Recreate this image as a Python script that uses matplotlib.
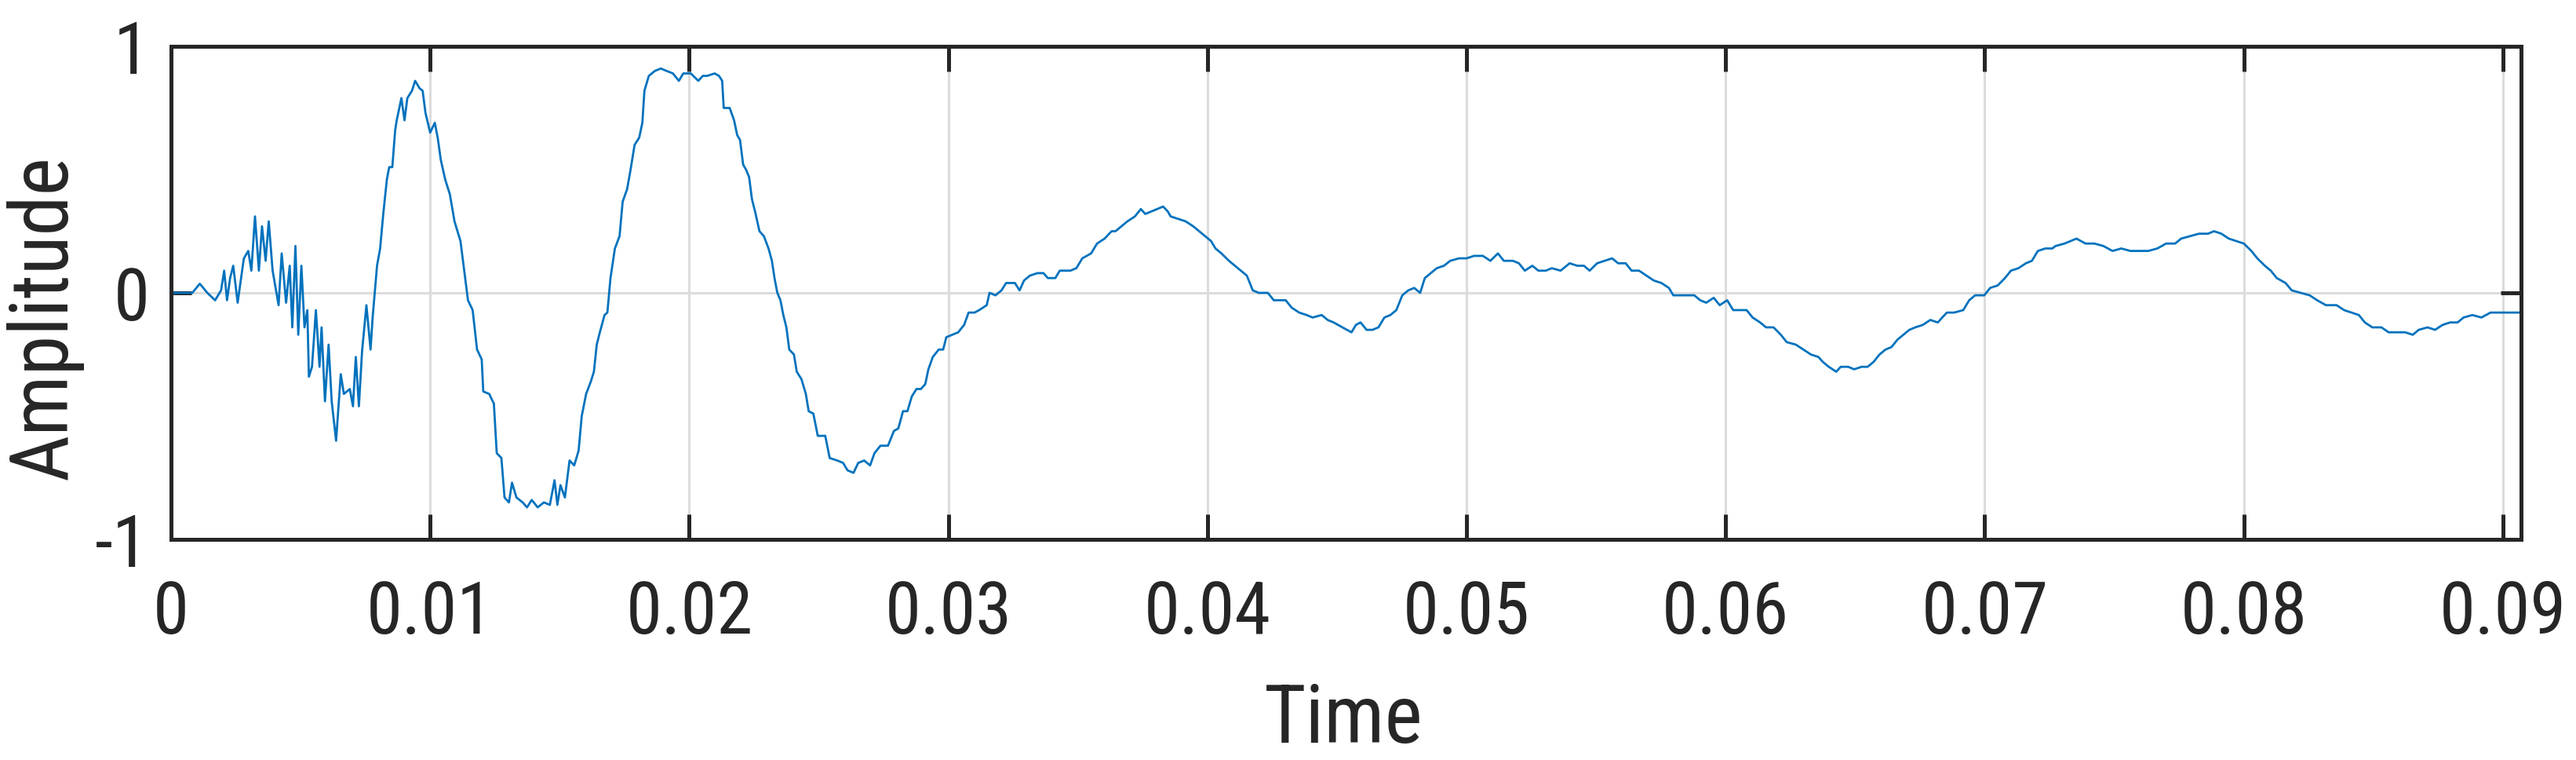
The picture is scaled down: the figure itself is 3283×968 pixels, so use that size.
import numpy as np
import matplotlib
matplotlib.use("Agg")
import matplotlib.pyplot as plt
from matplotlib import font_manager as fm

# ---- data (time in ms, amplitude) ----
time_ms = [
    0.00, 0.82, 1.11, 1.40, 1.70, 1.93, 2.05, 2.16, 2.28, 2.40, 2.57, 2.81, 2.98, 3.10, 3.24, 3.39,
    3.51, 3.65, 3.77, 3.92, 4.15, 4.27, 4.44, 4.58, 4.68, 4.80, 4.91, 5.03, 5.15, 5.26, 5.32, 5.44,
    5.59, 5.73, 5.81, 5.94, 6.08, 6.20, 6.37, 6.55, 6.67, 6.90, 7.02, 7.13, 7.25, 7.37, 7.54, 7.70,
    7.78, 7.95, 8.07, 8.19, 8.33, 8.42, 8.54, 8.65, 8.71, 8.89, 9.01, 9.12, 9.30, 9.42, 9.59, 9.71,
    9.82, 10.00, 10.18, 10.29, 10.41, 10.58, 10.76, 10.94, 11.17, 11.29, 11.46, 11.64, 11.81, 11.99,
    12.05, 12.28, 12.46, 12.57, 12.75, 12.87, 13.04, 13.16, 13.33, 13.57, 13.74, 13.92, 14.15, 14.39,
    14.62, 14.80, 14.91, 15.03, 15.20, 15.38, 15.56, 15.73, 15.85, 16.02, 16.20, 16.32, 16.43, 16.55,
    16.73, 16.84, 16.96, 17.13, 17.31, 17.43, 17.60, 17.72, 17.89, 18.07, 18.19, 18.27, 18.44, 18.67,
    18.90, 19.13, 19.37, 19.60, 19.77, 20.06, 20.35, 20.52, 20.69, 20.98, 21.15, 21.27, 21.33, 21.56,
    21.73, 21.85, 21.96, 22.08, 22.19, 22.31, 22.42, 22.54, 22.71, 22.88, 23.06, 23.19, 23.29, 23.40,
    23.52, 23.63, 23.75, 23.86, 24.04, 24.15, 24.33, 24.50, 24.61, 24.79, 24.96, 25.25, 25.42, 25.71,
    25.94, 26.11, 26.34, 26.52, 26.75, 26.98, 27.15, 27.38, 27.67, 27.90, 28.07, 28.25, 28.42, 28.59,
    28.77, 28.94, 29.11, 29.23, 29.40, 29.63, 29.80, 29.92, 30.15, 30.38, 30.61, 30.78, 31.01, 31.19,
    31.48, 31.59, 31.82, 32.05, 32.23, 32.57, 32.75, 32.92, 33.15, 33.44, 33.67, 33.84, 34.13, 34.30,
    34.48, 34.71, 34.94, 35.17, 35.51, 35.74, 36.03, 36.30, 36.45, 36.68, 36.91, 37.20, 37.43, 37.60,
    37.83, 38.06, 38.29, 38.47, 38.58, 38.87, 39.16, 39.45, 39.68, 39.91, 40.14, 40.31, 40.54, 40.83,
    41.06, 41.29, 41.52, 41.75, 41.98, 42.33, 42.56, 43.02, 43.25, 43.54, 43.83, 44.06, 44.41, 44.64,
    44.87, 45.21, 45.56, 45.73, 45.91, 46.14, 46.37, 46.60, 46.83, 47.06, 47.29, 47.52, 47.75, 47.98,
    48.21, 48.39, 48.62, 48.85, 49.13, 49.37, 49.71, 50.00, 50.29, 50.63, 50.92, 51.21, 51.44, 51.79,
    52.02, 52.25, 52.54, 52.77, 53.06, 53.29, 53.63, 53.98, 54.27, 54.53, 54.75, 55.04, 55.33, 55.62,
    55.85, 56.14, 56.37, 56.66, 56.94, 57.23, 57.52, 57.81, 57.98, 58.27, 58.56, 58.79, 59.02, 59.25,
    59.54, 59.77, 60.06, 60.29, 60.58, 60.81, 61.04, 61.33, 61.56, 61.85, 62.13, 62.36, 62.71, 63.00,
    63.29, 63.58, 63.75, 63.98, 64.27, 64.44, 64.73, 64.96, 65.25, 65.48, 65.71, 65.94, 66.17, 66.40,
    66.63, 66.86, 67.09, 67.32, 67.61, 67.90, 68.19, 68.36, 68.54, 68.82, 69.17, 69.40, 69.63, 69.98,
    70.21, 70.50, 70.78, 71.01, 71.30, 71.59, 71.82, 72.05, 72.34, 72.61, 72.73, 73.08, 73.54, 73.89,
    74.23, 74.58, 74.93, 75.27, 75.62, 76.02, 76.31, 76.66, 77.00, 77.35, 77.58, 77.92, 78.27, 78.62,
    78.85, 79.13, 79.42, 79.71, 80.00, 80.29, 80.52, 80.81, 81.04, 81.27, 81.61, 81.85, 82.19, 82.54,
    82.83, 83.17, 83.58, 83.87, 84.15, 84.44, 84.67, 84.96, 85.31, 85.59, 85.88, 86.23, 86.52, 86.75,
    87.09, 87.38, 87.67, 87.96, 88.25, 88.48, 88.82, 89.17, 89.52, 89.80, 90.15, 90.50, 90.70,
]
amplitude = [
    0.00, 0.00, 0.037, 0.00, -0.03, 0.01, 0.09, -0.03, 0.06, 0.11, -0.04, 0.14, 0.17, 0.09, 0.31, 0.09,
    0.27, 0.13, 0.29, 0.09, -0.05, 0.16, -0.04, 0.11, -0.14, 0.19, -0.17, 0.11, -0.14, -0.07, -0.34, -0.30,
    -0.07, -0.30, -0.14, -0.44, -0.21, -0.44, -0.60, -0.33, -0.41, -0.39, -0.46, -0.26, -0.46, -0.24, -0.05, -0.23,
    -0.10, 0.11, 0.18, 0.32, 0.46, 0.51, 0.51, 0.66, 0.70, 0.79, 0.70, 0.79, 0.82, 0.86, 0.83, 0.82,
    0.73, 0.65, 0.69, 0.63, 0.54, 0.46, 0.40, 0.29, 0.21, 0.11, -0.03, -0.07, -0.23, -0.27,
    -0.40, -0.41, -0.45, -0.65, -0.67, -0.83, -0.85, -0.77, -0.83, -0.85, -0.87, -0.84, -0.87, -0.85,
    -0.86, -0.76, -0.86, -0.78, -0.83, -0.68, -0.70, -0.64, -0.50, -0.41, -0.36, -0.32, -0.21, -0.16,
    -0.09, -0.08, 0.06, 0.18, 0.23, 0.37, 0.42, 0.49, 0.60, 0.63, 0.69, 0.82, 0.88, 0.90,
    0.91, 0.90, 0.89, 0.86, 0.89, 0.89, 0.86, 0.88, 0.88, 0.89, 0.88, 0.86, 0.75, 0.75,
    0.70, 0.64, 0.62, 0.52, 0.50, 0.47, 0.38, 0.33, 0.25, 0.23, 0.18, 0.13, 0.06, 0.00,
    -0.03, -0.09, -0.14, -0.23, -0.25, -0.32, -0.35, -0.41, -0.48, -0.49, -0.58, -0.58, -0.67, -0.68,
    -0.69, -0.72, -0.73, -0.69, -0.68, -0.70, -0.65, -0.62, -0.62, -0.56, -0.55, -0.48, -0.48, -0.42,
    -0.39, -0.39, -0.37, -0.31, -0.26, -0.23, -0.23, -0.18, -0.17, -0.16, -0.13, -0.08, -0.08, -0.07,
    -0.05, 0.00, -0.01, 0.01, 0.04, 0.04, 0.01, 0.05, 0.07, 0.08, 0.08, 0.06, 0.06, 0.09,
    0.09, 0.09, 0.10, 0.14, 0.16, 0.20, 0.22, 0.25, 0.25, 0.27, 0.29, 0.31, 0.34, 0.32,
    0.33, 0.34, 0.35, 0.33, 0.31, 0.30, 0.29, 0.27, 0.25, 0.23, 0.21, 0.18, 0.16, 0.13,
    0.11, 0.09, 0.07, 0.01, 0.00, 0.00, -0.03, -0.03, -0.06, -0.08, -0.09, -0.10, -0.09, -0.11,
    -0.12, -0.14, -0.16, -0.13, -0.12, -0.15, -0.15, -0.14, -0.10, -0.09, -0.07, -0.01, 0.01, 0.02,
    0.00, 0.06, 0.08, 0.10, 0.11, 0.13, 0.14, 0.14, 0.15, 0.15, 0.13, 0.16, 0.13, 0.13,
    0.12, 0.09, 0.11, 0.09, 0.09, 0.10, 0.09, 0.12, 0.11, 0.11, 0.09, 0.12, 0.13, 0.14,
    0.12, 0.12, 0.09, 0.09, 0.07, 0.05, 0.04, 0.02, -0.01, -0.01, -0.01, -0.01, -0.03, -0.04,
    -0.02, -0.05, -0.03, -0.07, -0.07, -0.07, -0.10, -0.12, -0.14, -0.14, -0.17, -0.20, -0.21, -0.23,
    -0.25, -0.26, -0.28, -0.30, -0.32, -0.30, -0.30, -0.31, -0.30, -0.30, -0.28, -0.25, -0.23, -0.22,
    -0.19, -0.17, -0.15, -0.14, -0.13, -0.11, -0.12, -0.10, -0.08, -0.08, -0.07, -0.03, -0.01, -0.01,
    0.02, 0.03, 0.06, 0.09, 0.10, 0.12, 0.13, 0.17, 0.18, 0.18, 0.19, 0.20, 0.22, 0.20,
    0.20, 0.19, 0.17, 0.18, 0.17, 0.17, 0.17, 0.18, 0.20, 0.20, 0.22, 0.23, 0.24, 0.24,
    0.25, 0.24, 0.22, 0.21, 0.20, 0.17, 0.14, 0.11, 0.09, 0.06, 0.04, 0.01, 0.00, -0.01,
    -0.03, -0.05, -0.05, -0.07, -0.08, -0.09, -0.12, -0.14, -0.14, -0.16, -0.16, -0.16, -0.17, -0.15,
    -0.14, -0.15, -0.13, -0.12, -0.12, -0.10, -0.09, -0.10, -0.08, -0.08, -0.08, -0.08, -0.08,
]
x_ticks = [0, 0.01, 0.02, 0.03, 0.04, 0.05, 0.06, 0.07, 0.08, 0.09]
x_tick_labels = ["0", "0.01", "0.02", "0.03", "0.04", "0.05", "0.06", "0.07", "0.08", "0.09"]
y_ticks = [-1, 0, 1]
y_tick_labels = ["-1", "0", "1"]
x_label = "Time"
y_label = "Amplitude"

# ---- fonts: prefer a narrow Arial-like face if one is installed ----
names = {f.name for f in fm.fontManager.ttflist}
fam = "Liberation Sans"
for cand in ["Liberation Sans Narrow", "Arial Narrow", "Roboto Condensed"]:
    if cand in names:
        fam = cand
        break
plt.rcParams["font.family"] = [fam, "DejaVu Sans"]

t = np.array(time_ms) / 1000.0
a = np.array(amplitude)

fig = plt.figure(figsize=(32.83, 9.68), dpi=100)
ax = fig.add_axes([218 / 3283, 281 / 968, 2995 / 3283, 628 / 968])

ax.plot(t, a, color="#0072BD", lw=2.0, zorder=3)

ax.set_xlim(0, 0.0907)
ax.set_ylim(-1, 1)
ax.set_xticks(x_ticks)
ax.set_xticklabels(x_tick_labels)
ax.set_yticks(y_ticks)
ax.set_yticklabels(y_tick_labels)

ax.grid(True, color="#dcdcdc", lw=2.2, zorder=0)
ax.set_axisbelow(True)

dark = "#262626"
for s in ax.spines.values():
    s.set_linewidth(3.6)
    s.set_color(dark)
    s.set_zorder(4)

ax.tick_params(axis="x", direction="in", length=23, width=3.6, color=dark,
               top=True, bottom=True, labelsize=67, labelcolor=dark, pad=36)
ax.tick_params(axis="y", direction="in", length=19, width=3.6, color=dark,
               left=True, right=True, labelsize=67, labelcolor=dark, pad=20)

ax.set_xlabel(x_label, fontsize=74, color=dark)
ax.set_ylabel(y_label, fontsize=74, color=dark)
ax.xaxis.set_label_coords(0.4988, -0.288)
ax.yaxis.set_label_coords(-0.0374, 0.45)

fig.savefig("out.png", dpi=100, facecolor="white")
